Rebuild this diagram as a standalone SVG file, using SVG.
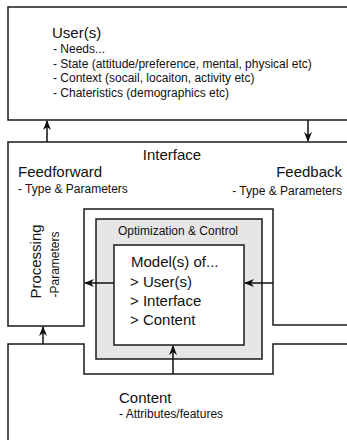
<svg xmlns="http://www.w3.org/2000/svg" width="347" height="440" viewBox="0 0 347 440">
<style>
.shape{fill:#fff;stroke:#1a1a1a;stroke-width:1.5}
.gray{fill:#e6e6e6;stroke:#1a1a1a;stroke-width:1.5}
text{font-family:"Liberation Sans",Arial,sans-serif;fill:#111}
.big{font-size:15px}
.small{font-size:12px}
.conn line{stroke:#111;stroke-width:1.5;marker-end:url(#arr)}
</style>
<defs>
<marker id="arr" markerUnits="userSpaceOnUse" markerWidth="10" markerHeight="8" refX="9" refY="4" orient="auto">
<path d="M0,0 L10,4 L0,8 L3,4 z" fill="#111"/>
</marker>
</defs>
<rect width="347" height="440" fill="#fff"/>
<g id="users">
<rect class="shape" x="8" y="7" width="345" height="113"/>
<text class="big" x="52" y="38">User(s)</text>
<text class="small" x="53" y="53">- Needs...</text>
<text class="small" x="53" y="67.5">- State (attitude/preference, mental, physical etc)</text>
<text class="small" x="53" y="82">- Context (socail, locaiton, activity etc)</text>
<text class="small" x="53" y="97">- Chateristics (demographics etc)</text>
</g>
<g id="interface">
<path class="shape" d="M8,142 H353 V325 H273 V209 H84 V326 H8 Z"/>
<text class="big" x="172" y="160" text-anchor="middle">Interface</text>
<text class="big" x="18" y="177">Feedforward</text>
<text class="small" x="18" y="193">- Type &amp; Parameters</text>
<text class="big" x="342" y="177" text-anchor="end">Feedback</text>
<text class="small" x="342" y="195" text-anchor="end">- Type &amp; Parameters</text>
<text class="big" transform="translate(40.5,261.5) rotate(-90)" text-anchor="middle">Processing</text>
<text class="small" transform="translate(58.5,264.5) rotate(-90)" text-anchor="middle">-Parameters</text>
</g>
<g id="content">
<path class="shape" d="M8,446 V344 H84 V374 H273 V344 H353 V446 Z"/>
<text class="big" x="119" y="403">Content</text>
<text class="small" x="119" y="418">- Attributes/features</text>
</g>
<g id="optimization">
<rect class="gray" x="96" y="219" width="166" height="140"/>
<text class="small" x="178" y="235" text-anchor="middle">Optimization &amp; Control</text>
</g>
<g id="models">
<rect class="shape" x="114" y="245" width="130" height="100"/>
<text class="big" x="131" y="267">Model(s) of...</text>
<text class="big" x="130" y="287">&gt; User(s)</text>
<text class="big" x="130" y="306">&gt; Interface</text>
<text class="big" x="130" y="325">&gt; Content</text>
</g>
<g id="connectors" class="conn">
<line x1="47" y1="142" x2="47" y2="121"/>
<line x1="308" y1="120" x2="308" y2="141"/>
<line x1="114" y1="283" x2="85" y2="283"/>
<line x1="273" y1="283" x2="245" y2="283"/>
<line x1="43" y1="344" x2="43" y2="327"/>
<line x1="173" y1="374" x2="173" y2="346"/>
</g>
</svg>
